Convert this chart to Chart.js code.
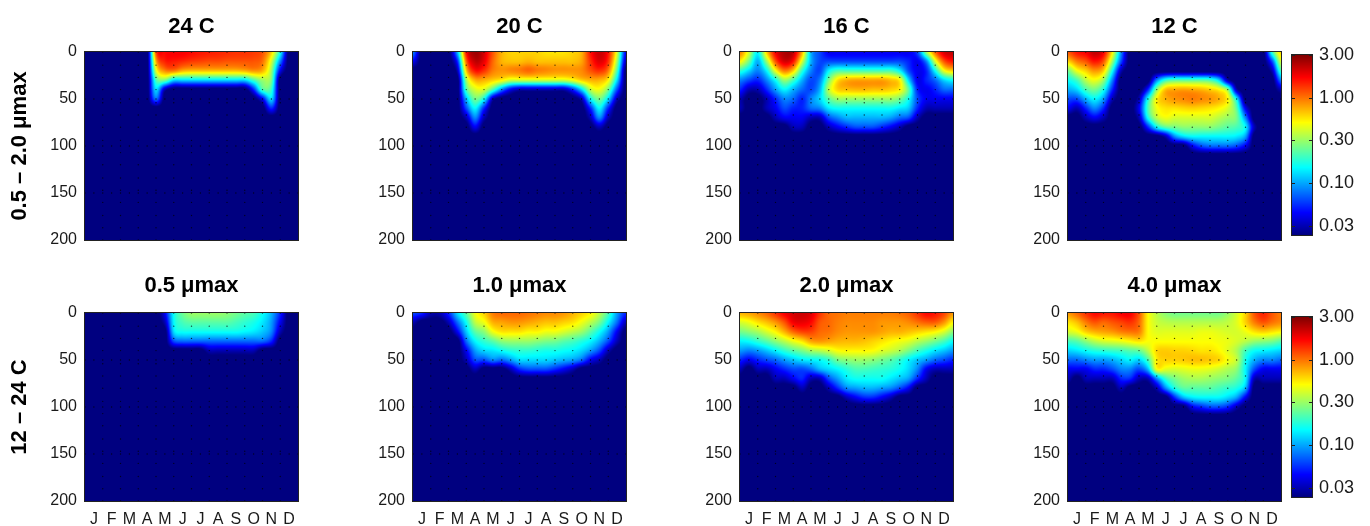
<!DOCTYPE html>
<html>
<head>
    <title>Depth-season panels</title>
    <script src="https://cdn.jsdelivr.net/npm/chart.js"></script>
    <style>
        body { margin: 0; background: white; width: 1370px; height: 526px; overflow: hidden; position: relative; }
        canvas { position: absolute; }
    </style>
</head>
<body>
    <script>
        const monthLabels = ['J', 'F', 'M', 'A', 'M', 'J', 'J', 'A', 'S', 'O', 'N', 'D'];
        const monthCenters = [0.5, 1.5, 2.5, 3.5, 4.5, 5.5, 6.5, 7.5, 8.5, 9.5, 10.5, 11.5];
        const depthTicks = [0, 50, 100, 150, 200];
        const colorTicks = [3, 0.95, 0.3, 0.095, 0.03];
        const colorLabels = ['3.00', '1.00', '0.30', '0.10', '0.03'];

        // grid the values below are read on: half-month columns, 10 m rows (deeper rows are background)
        const gridMonths = [0, 0.5, 1, 1.5, 2, 2.5, 3, 3.5, 4, 4.5, 5, 5.5, 6, 6.5, 7, 7.5, 8, 8.5, 9, 9.5, 10, 10.5, 11, 11.5, 12];
        const gridDepths = [0, 10, 20, 30, 40, 50, 60, 70, 80, 90, 100, 110, 120];
        const deepValue = 2;

        // sampling stations shown as small dots
        const dotMonths = [1, 2, 3, 4, 5, 6, 7, 8, 9, 10, 11];
        const dotDepths = [0, 14, 27, 40, 54, 67, 80, 94, 107, 120, 134, 147, 160, 174, 187, 200];
        const denseDepths = [50, 100, 150];

        // values x 100, one row per depth
        const panel24C = [
            [2, 2, 2, 2, 2, 2, 2, 2, 110, 160, 170, 170, 160, 150, 145, 140, 135, 130, 130, 125, 110, 60, 15, 2, 2],
            [2, 2, 2, 2, 2, 2, 2, 2, 70, 140, 145, 135, 125, 120, 115, 115, 110, 110, 110, 110, 95, 40, 8, 2, 2],
            [2, 2, 2, 2, 2, 2, 2, 2, 40, 85, 90, 70, 65, 65, 65, 65, 65, 65, 70, 80, 70, 30, 4, 2, 2],
            [2, 2, 2, 2, 2, 2, 2, 2, 20, 25, 12, 12, 12, 12, 12, 12, 12, 12, 12, 20, 30, 25, 2, 2, 2],
            [2, 2, 2, 2, 2, 2, 2, 2, 12, 3, 2, 2, 2, 2, 2, 2, 2, 2, 2, 5, 20, 18, 2, 2, 2],
            [2, 2, 2, 2, 2, 2, 2, 2, 7, 2, 2, 2, 2, 2, 2, 2, 2, 2, 2, 2, 4, 12, 2, 2, 2],
            [2, 2, 2, 2, 2, 2, 2, 2, 2, 2, 2, 2, 2, 2, 2, 2, 2, 2, 2, 2, 2, 5, 2, 2, 2]
        ];
        const panel20C = [
            [8, 2, 2, 2, 2, 10, 150, 260, 200, 110, 70, 60, 60, 60, 60, 55, 55, 55, 60, 70, 150, 210, 150, 40, 4],
            [4, 2, 2, 2, 2, 5, 100, 220, 180, 100, 70, 65, 65, 70, 65, 65, 65, 65, 65, 75, 130, 190, 130, 30, 3],
            [2, 2, 2, 2, 2, 3, 60, 150, 130, 90, 80, 85, 90, 100, 90, 85, 80, 80, 80, 85, 110, 130, 90, 20, 2],
            [2, 2, 2, 2, 2, 2, 30, 70, 70, 60, 50, 38, 38, 38, 38, 38, 38, 38, 45, 60, 70, 70, 50, 12, 2],
            [2, 2, 2, 2, 2, 2, 20, 40, 40, 20, 8, 4, 3, 3, 3, 3, 3, 3, 5, 12, 35, 45, 25, 6, 2],
            [2, 2, 2, 2, 2, 2, 10, 25, 15, 3, 2, 2, 2, 2, 2, 2, 2, 2, 2, 3, 14, 25, 12, 3, 2],
            [2, 2, 2, 2, 2, 2, 6, 14, 5, 2, 2, 2, 2, 2, 2, 2, 2, 2, 2, 2, 5, 14, 5, 2, 2],
            [2, 2, 2, 2, 2, 2, 3, 8, 3, 2, 2, 2, 2, 2, 2, 2, 2, 2, 2, 2, 3, 8, 3, 2, 2],
            [2, 2, 2, 2, 2, 2, 2, 4, 2, 2, 2, 2, 2, 2, 2, 2, 2, 2, 2, 2, 2, 3, 2, 2, 2]
        ];
        const panel16C = [
            [90, 40, 14, 60, 170, 240, 220, 70, 10, 6, 4, 4, 4, 4, 4, 4, 4, 4, 4, 4, 6, 30, 100, 200, 220],
            [50, 25, 10, 30, 110, 200, 150, 40, 10, 6, 6, 6, 6, 6, 6, 6, 6, 6, 6, 5, 4, 8, 40, 110, 150],
            [18, 12, 8, 14, 45, 90, 60, 18, 8, 6, 14, 20, 20, 20, 20, 20, 20, 20, 14, 6, 4, 5, 15, 45, 60],
            [8, 6, 5, 8, 15, 30, 20, 10, 6, 8, 25, 55, 70, 75, 75, 75, 75, 65, 50, 12, 4, 5, 7, 12, 15],
            [5, 3, 3, 5, 9, 14, 10, 7, 6, 10, 35, 60, 65, 68, 68, 65, 65, 60, 50, 22, 5, 4, 5, 7, 7],
            [3, 2, 2, 3, 5, 8, 7, 5, 8, 12, 22, 30, 30, 30, 30, 30, 30, 30, 25, 15, 6, 4, 4, 4, 4],
            [3, 2, 2, 3, 4, 6, 5, 5, 7, 8, 13, 15, 15, 15, 15, 15, 15, 15, 13, 11, 5, 3, 3, 3, 3],
            [2, 2, 2, 2, 3, 4, 4, 4, 3, 3, 6, 8, 10, 10, 10, 10, 10, 9, 7, 6, 3, 2, 2, 2, 2],
            [2, 2, 2, 2, 2, 2, 3, 3, 2, 2, 3, 4, 5, 6, 6, 6, 5, 4, 3, 2, 2, 2, 2, 2, 2]
        ];
        const panel12C = [
            [110, 150, 170, 220, 170, 50, 8, 2, 2, 2, 2, 2, 2, 2, 2, 2, 2, 2, 2, 2, 2, 2, 2, 18, 60],
            [60, 90, 110, 150, 110, 30, 6, 2, 2, 2, 2, 2, 2, 2, 2, 2, 2, 2, 2, 2, 2, 2, 2, 6, 40],
            [25, 45, 60, 80, 60, 15, 3, 2, 2, 2, 2, 2, 2, 2, 2, 2, 2, 2, 2, 2, 2, 2, 2, 3, 20],
            [15, 20, 35, 45, 30, 8, 2, 2, 2, 2, 8, 18, 22, 22, 22, 22, 20, 12, 3, 2, 2, 2, 2, 2, 8],
            [10, 12, 20, 25, 16, 5, 2, 2, 2, 5, 28, 65, 72, 75, 72, 68, 60, 50, 28, 3, 2, 2, 2, 2, 3],
            [6, 6, 10, 14, 9, 3, 2, 2, 3, 15, 50, 70, 80, 85, 90, 85, 80, 70, 50, 14, 2, 2, 2, 2, 2],
            [4, 3, 5, 8, 5, 2, 2, 2, 4, 20, 45, 55, 55, 58, 60, 58, 55, 50, 40, 22, 4, 2, 2, 2, 2],
            [2, 2, 3, 4, 3, 2, 2, 2, 3, 15, 35, 45, 40, 40, 40, 40, 40, 35, 30, 25, 8, 2, 2, 2, 2],
            [2, 2, 2, 2, 2, 2, 2, 2, 2, 5, 14, 22, 25, 28, 28, 28, 28, 25, 22, 20, 14, 3, 2, 2, 2],
            [2, 2, 2, 2, 2, 2, 2, 2, 2, 2, 2, 3, 8, 12, 14, 14, 14, 14, 14, 13, 9, 2, 2, 2, 2],
            [2, 2, 2, 2, 2, 2, 2, 2, 2, 2, 2, 2, 2, 2, 4, 6, 7, 7, 7, 6, 4, 2, 2, 2, 2]
        ];
        const panel05 = [
            [2, 2, 2, 2, 2, 2, 2, 2, 2, 4, 15, 24, 30, 30, 30, 30, 28, 25, 22, 20, 15, 10, 5, 2, 2],
            [2, 2, 2, 2, 2, 2, 2, 2, 2, 3, 14, 20, 22, 22, 22, 22, 22, 20, 18, 16, 13, 9, 4, 2, 2],
            [2, 2, 2, 2, 2, 2, 2, 2, 2, 2, 12, 15, 15, 15, 15, 15, 15, 15, 14, 13, 11, 8, 3, 2, 2],
            [2, 2, 2, 2, 2, 2, 2, 2, 2, 2, 6, 7, 7, 7, 7, 7, 7, 7, 7, 7, 7, 5, 2, 2, 2],
            [2, 2, 2, 2, 2, 2, 2, 2, 2, 2, 2, 2, 2, 2, 3, 3, 3, 3, 3, 3, 2, 2, 2, 2, 2]
        ];
        const panel10 = [
            [6, 5, 3, 3, 5, 12, 22, 45, 60, 90, 100, 100, 100, 95, 90, 85, 85, 80, 70, 60, 50, 35, 20, 9, 5],
            [3, 2, 2, 2, 3, 7, 15, 35, 45, 70, 75, 80, 80, 75, 70, 65, 65, 60, 55, 45, 35, 25, 14, 7, 3],
            [2, 2, 2, 2, 2, 4, 11, 22, 28, 45, 55, 55, 55, 50, 50, 45, 45, 40, 35, 30, 22, 15, 9, 4, 2],
            [2, 2, 2, 2, 2, 2, 7, 14, 18, 22, 28, 30, 30, 30, 28, 26, 25, 22, 20, 17, 14, 10, 6, 3, 2],
            [2, 2, 2, 2, 2, 2, 4, 9, 12, 13, 15, 17, 18, 18, 17, 16, 16, 15, 14, 12, 9, 6, 3, 2, 2],
            [2, 2, 2, 2, 2, 2, 3, 6, 6, 8, 7, 9, 12, 12, 12, 12, 11, 10, 9, 7, 4, 3, 2, 2, 2],
            [2, 2, 2, 2, 2, 2, 2, 3, 2, 2, 2, 3, 5, 6, 6, 6, 5, 4, 3, 2, 2, 2, 2, 2, 2]
        ];
        const panel20 = [
            [70, 75, 85, 100, 130, 170, 200, 210, 190, 130, 100, 95, 90, 90, 90, 90, 90, 90, 95, 105, 130, 160, 150, 120, 80],
            [40, 45, 55, 65, 80, 110, 170, 180, 160, 110, 100, 90, 85, 85, 85, 85, 80, 80, 80, 85, 95, 105, 105, 80, 50],
            [25, 28, 32, 40, 50, 70, 100, 120, 120, 100, 95, 85, 80, 80, 80, 80, 75, 70, 70, 65, 60, 55, 50, 40, 28],
            [14, 15, 18, 22, 28, 35, 45, 55, 75, 80, 75, 70, 68, 68, 65, 60, 55, 50, 46, 42, 35, 30, 25, 20, 15],
            [9, 8, 9, 11, 14, 18, 22, 26, 32, 35, 40, 48, 50, 50, 50, 48, 42, 38, 33, 26, 20, 16, 13, 11, 9],
            [5, 4, 5, 6, 7, 9, 11, 13, 14, 15, 18, 25, 28, 30, 30, 28, 25, 22, 18, 14, 11, 9, 7, 6, 5],
            [3, 2, 3, 3, 4, 5, 6, 6, 7, 10, 12, 14, 17, 20, 20, 19, 18, 17, 15, 12, 8, 4, 3, 3, 3],
            [2, 2, 2, 2, 3, 3, 4, 5, 3, 3, 6, 9, 13, 15, 15, 15, 15, 13, 11, 9, 5, 3, 2, 2, 2],
            [2, 2, 2, 2, 2, 2, 2, 3, 2, 2, 3, 5, 8, 9, 10, 10, 9, 8, 6, 4, 2, 2, 2, 2, 2],
            [2, 2, 2, 2, 2, 2, 2, 2, 2, 2, 2, 2, 3, 4, 5, 5, 4, 3, 2, 2, 2, 2, 2, 2, 2]
        ];
        const panel40 = [
            [80, 100, 130, 160, 150, 150, 170, 170, 110, 50, 35, 28, 25, 25, 25, 25, 25, 25, 30, 40, 60, 110, 140, 110, 90],
            [55, 65, 90, 110, 100, 110, 120, 130, 100, 50, 38, 35, 34, 34, 34, 34, 34, 34, 36, 42, 60, 90, 110, 95, 85],
            [40, 45, 60, 70, 75, 80, 90, 95, 90, 50, 42, 42, 42, 42, 42, 44, 44, 42, 40, 40, 45, 55, 60, 55, 50],
            [20, 22, 28, 35, 40, 42, 45, 50, 55, 48, 48, 48, 48, 48, 48, 48, 48, 46, 44, 40, 35, 30, 28, 26, 22],
            [12, 13, 15, 17, 18, 19, 20, 22, 24, 35, 58, 62, 60, 60, 58, 55, 55, 50, 42, 33, 20, 15, 14, 13, 12],
            [7, 7, 8, 9, 9, 10, 12, 14, 12, 20, 52, 60, 60, 62, 65, 65, 62, 58, 46, 36, 16, 10, 8, 8, 7],
            [4, 4, 4, 5, 5, 6, 8, 8, 6, 10, 45, 42, 40, 42, 44, 44, 42, 38, 33, 28, 14, 6, 4, 4, 4],
            [3, 2, 3, 3, 3, 3, 5, 5, 3, 3, 8, 18, 25, 30, 32, 32, 30, 28, 26, 22, 14, 3, 3, 3, 3],
            [2, 2, 2, 2, 2, 2, 3, 2, 2, 2, 3, 8, 16, 22, 22, 22, 22, 20, 18, 16, 10, 2, 2, 2, 2],
            [2, 2, 2, 2, 2, 2, 2, 2, 2, 2, 2, 2, 5, 10, 13, 14, 14, 14, 12, 9, 4, 2, 2, 2, 2],
            [2, 2, 2, 2, 2, 2, 2, 2, 2, 2, 2, 2, 2, 2, 4, 5, 6, 6, 5, 3, 2, 2, 2, 2, 2]
        ];

        const TEXT = '#1a1a1a';
        const FONT = '"Liberation Sans", Arial, sans-serif';
        const MARGIN = 80;   // canvas margin left and right of a plot
        const PLOT_W = 213, PLOT_H = 188;

        // log colour range of the colour bar
        const COLOR_MIN = 0.0234, COLOR_MAX = 3;

        function colorPos(v) {
            const p = (Math.log10(v) - Math.log10(COLOR_MIN)) / (Math.log10(COLOR_MAX) - Math.log10(COLOR_MIN));
            return Math.max(0, Math.min(1, p));
        }

        function jet(p) {
            const c = x => Math.round(255 * Math.max(0, Math.min(1, x)));
            return [
                c(Math.min(4 * p - 1.5, -4 * p + 4.5)),
                c(Math.min(4 * p - 0.5, -4 * p + 3.5)),
                c(Math.min(4 * p + 0.5, -4 * p + 2.5))
            ];
        }

        function segment(list, value) {
            let i = 0;
            while (i < list.length - 2 && value > list[i + 1]) i++;
            return i;
        }

        function cubic(a, b, c, d, t) {
            return b + 0.5 * t * (c - a + t * (2 * a - 5 * b + 4 * c - d + t * (3 * (b - c) + d - a)));
        }

        // paints the first dataset as a smooth shaded field, like shading interp
        const heatPlugin = {
            id: 'heat',
            beforeDatasetsDraw(chart) {
                const cells = chart.data.datasets[0].data;
                const { left, top, width, height } = chart.chartArea;
                const xs = chart.scales.x, ys = chart.scales.y;
                const ratio = chart.currentDevicePixelRatio;
                const w = Math.round(width * ratio), h = Math.round(height * ratio);
                const image = chart.ctx.createImageData(w, h);
                const cols = gridMonths.length, rows = gridDepths.length;
                const logAt = (r, c) => Math.log10(cells[Math.max(0, Math.min(rows - 1, r)) * cols + Math.max(0, Math.min(cols - 1, c))].v);
                const rowAt = (r, c, fx) => cubic(logAt(r, c - 1), logAt(r, c), logAt(r, c + 1), logAt(r, c + 2), fx);
                for (let py = 0; py < h; py++) {
                    const depth = Math.max(0, Math.min(gridDepths[rows - 1], ys.getValueForPixel(top + (py + 0.5) / ratio)));
                    const r = segment(gridDepths, depth);
                    const fy = (depth - gridDepths[r]) / (gridDepths[r + 1] - gridDepths[r]);
                    for (let px = 0; px < w; px++) {
                        const month = Math.max(0, Math.min(12, xs.getValueForPixel(left + (px + 0.5) / ratio)));
                        const c = segment(gridMonths, month);
                        const fx = (month - gridMonths[c]) / (gridMonths[c + 1] - gridMonths[c]);
                        const log = cubic(rowAt(r - 1, c, fx), rowAt(r, c, fx), rowAt(r + 1, c, fx), rowAt(r + 2, c, fx), fy);
                        const rgb = jet(colorPos(Math.pow(10, log)));
                        const i = (py * w + px) * 4;
                        image.data[i] = rgb[0];
                        image.data[i + 1] = rgb[1];
                        image.data[i + 2] = rgb[2];
                        image.data[i + 3] = 255;
                    }
                }
                chart.ctx.putImageData(image, Math.round(left * ratio), Math.round(top * ratio));
            }
        };

        // the MATLAB style box around a plot
        const framePlugin = {
            id: 'frame',
            afterDatasetsDraw(chart) {
                const { left, top, width, height } = chart.chartArea;
                const ctx = chart.ctx;
                ctx.save();
                ctx.strokeStyle = '#222';
                ctx.lineWidth = 1;
                ctx.strokeRect(left - 0.5, top - 0.5, width + 1, height + 1);
                ctx.restore();
            }
        };

        const colorbarPlugin = {
            id: 'colorbar',
            beforeDatasetsDraw(chart) {
                const { left, right, top, bottom } = chart.chartArea;
                const ctx = chart.ctx, ys = chart.scales.y;
                for (let py = top; py < bottom; py++) {
                    const rgb = jet(colorPos(ys.getValueForPixel(py + 0.5)));
                    ctx.fillStyle = `rgb(${rgb[0]},${rgb[1]},${rgb[2]})`;
                    ctx.fillRect(left, py, right - left, 1);
                }
                ctx.strokeStyle = '#222';
                ctx.lineWidth = 1;
                colorTicks.forEach(t => {
                    const y = Math.round(ys.getPixelForValue(t)) + 0.5;
                    ctx.beginPath();
                    ctx.moveTo(left, y); ctx.lineTo(left + 3, y);
                    ctx.moveTo(right - 3, y); ctx.lineTo(right, y);
                    ctx.stroke();
                });
            }
        };

        function buildCells(rows) {
            const cells = [];
            gridDepths.forEach((depth, r) => {
                gridMonths.forEach((month, c) => {
                    const v = rows[r] ? rows[r][c] : deepValue;
                    cells.push({ x: month, y: depth, v: v / 100 });
                });
            });
            return cells;
        }

        function buildDots() {
            const dots = [];
            dotDepths.forEach(depth => dotMonths.forEach(month => dots.push({ x: month, y: depth })));
            denseDepths.forEach(depth => gridMonths.forEach(month => dots.push({ x: month, y: depth })));
            return dots;
        }

        function addCanvas(left, top, width, height) {
            const canvas = document.createElement('canvas');
            canvas.width = width;
            canvas.height = height;
            canvas.style.left = left + 'px';
            canvas.style.top = top + 'px';
            canvas.style.width = width + 'px';
            canvas.style.height = height + 'px';
            document.body.appendChild(canvas);
            return canvas.getContext('2d');
        }

        function drawPanel(p) {
            const ctx = addCanvas(p.left - MARGIN, p.top - 40, MARGIN * 2 + PLOT_W, 40 + PLOT_H + 25);
            new Chart(ctx, {
                type: 'scatter',
                data: {
                    datasets: [
                        { label: 'field', data: buildCells(p.rows), pointRadius: 0 },
                        { label: 'stations', data: buildDots(), pointRadius: 0.7, borderWidth: 0, backgroundColor: 'rgba(0,0,0,0.75)' }
                    ]
                },
                plugins: [heatPlugin, framePlugin],
                options: {
                    responsive: false,
                    animation: false,
                    events: [],
                    plugins: {
                        legend: { display: false },
                        tooltip: { enabled: false },
                        title: {
                            display: true,
                            text: p.title,
                            color: '#000',
                            font: { family: FONT, size: 22, weight: 'bold', lineHeight: 1 },
                            padding: { top: p.titleTop, bottom: 18 - p.titleTop }
                        }
                    },
                    scales: {
                        x: {
                            type: 'linear',
                            min: 0,
                            max: 12,
                            grid: { display: false, drawTicks: false },
                            border: { display: false },
                            afterBuildTicks: s => { s.ticks = monthCenters.map(v => ({ value: v })); },
                            afterFit: s => { s.height = 25; },
                            ticks: {
                                display: p.months,
                                autoSkip: false,
                                maxRotation: 0,
                                padding: 9,
                                color: TEXT,
                                font: { family: FONT, size: 16 },
                                callback: (v, i) => monthLabels[i]
                            }
                        },
                        y: {
                            type: 'linear',
                            reverse: true,
                            min: 0,
                            max: 200,
                            grid: { display: false, drawTicks: false },
                            border: { display: false },
                            afterBuildTicks: s => { s.ticks = depthTicks.map(v => ({ value: v })); },
                            afterFit: s => { s.width = MARGIN; },
                            title: {
                                display: !!p.side,
                                text: p.side,
                                color: '#000',
                                font: { family: FONT, size: 22, weight: 'bold', lineHeight: 1 },
                                padding: { top: 4, bottom: 0 }
                            },
                            ticks: {
                                padding: 8,
                                color: TEXT,
                                font: { family: FONT, size: 16 }
                            }
                        },
                        // empty right axis keeps the title centred over the plot
                        spacer: {
                            type: 'linear',
                            position: 'right',
                            grid: { display: false, drawTicks: false },
                            border: { display: false },
                            ticks: { display: false },
                            afterFit: s => { s.width = MARGIN; }
                        }
                    }
                }
            });
        }

        function drawColorbar(top) {
            const ctx = addCanvas(1282, top - 20, 88, 220);
            new Chart(ctx, {
                type: 'scatter',
                data: { datasets: [{ data: [], pointRadius: 0 }] },
                plugins: [colorbarPlugin, framePlugin],
                options: {
                    responsive: false,
                    animation: false,
                    events: [],
                    layout: { padding: { left: 10, top: 20, bottom: 20 } },
                    plugins: { legend: { display: false }, tooltip: { enabled: false } },
                    scales: {
                        x: { type: 'linear', display: false },
                        y: {
                            type: 'logarithmic',
                            position: 'right',
                            min: COLOR_MIN,
                            max: COLOR_MAX,
                            grid: { display: false, drawTicks: false },
                            border: { display: false },
                            afterBuildTicks: s => { s.ticks = colorTicks.map(v => ({ value: v })); },
                            afterFit: s => { s.width = 58; },
                            ticks: {
                                padding: 7,
                                autoSkip: false,
                                color: TEXT,
                                font: { family: FONT, size: 18 },
                                callback: (v, i) => colorLabels[i]
                            }
                        }
                    }
                }
            });
        }

        const colLefts = [85, 413, 740, 1068];
        const rowTop = 52, rowBottom = 313;

        drawPanel({ left: colLefts[0], top: rowTop, rows: panel24C, title: '24 C', side: '0.5 – 2.0 μmax', months: false, titleTop: 4 });
        drawPanel({ left: colLefts[1], top: rowTop, rows: panel20C, title: '20 C', months: false, titleTop: 4 });
        drawPanel({ left: colLefts[2], top: rowTop, rows: panel16C, title: '16 C', months: false, titleTop: 4 });
        drawPanel({ left: colLefts[3], top: rowTop, rows: panel12C, title: '12 C', months: false, titleTop: 4 });
        drawPanel({ left: colLefts[0], top: rowBottom, rows: panel05, title: '0.5 μmax', side: '12 – 24 C', months: true, titleTop: 2 });
        drawPanel({ left: colLefts[1], top: rowBottom, rows: panel10, title: '1.0 μmax', months: true, titleTop: 2 });
        drawPanel({ left: colLefts[2], top: rowBottom, rows: panel20, title: '2.0 μmax', months: true, titleTop: 2 });
        drawPanel({ left: colLefts[3], top: rowBottom, rows: panel40, title: '4.0 μmax', months: true, titleTop: 2 });

        drawColorbar(55);
        drawColorbar(317);
    </script>
</body>
</html>
